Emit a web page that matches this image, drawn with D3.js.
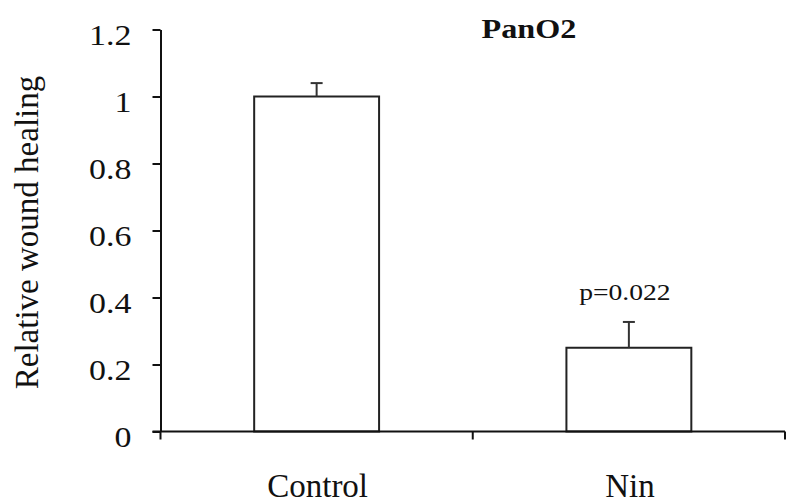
<!DOCTYPE html>
<html>
<head>
<meta charset="utf-8">
<script src="https://cdn.jsdelivr.net/npm/d3@7"></script>
<style>
  body { margin: 0; background: #fff; }
  text { font-family: "Liberation Serif", "Times New Roman", serif; fill: #111; }
</style>
</head>
<body>
<svg id="chart" width="786" height="504"></svg>
<script>
// values
var categories = ["Control", "Nin"];
var means = [1.0, 0.25];
var errors = [0.04, 0.077];
var pLabels = ["", "p=0.022"];
var yTicks = [0, 0.2, 0.4, 0.6, 0.8, 1, 1.2];
var yTickLabels = ["0", "0.2", "0.4", "0.6", "0.8", "1", "1.2"];

var svg = d3.select('#chart');

var plotLeft = 160.5, plotRight = 785, plotTop = 29.5, plotBottom = 431.5;

var x = d3.scaleBand().domain(categories).range([plotLeft, plotRight]).paddingInner(0).paddingOuter(0),
    y = d3.scaleLinear().domain([0, 1.2]).range([plotBottom, plotTop]);

var barW = x.bandwidth() * 0.4;
var rows = categories.map(function(c, i) { return { cat: c, mean: means[i], err: errors[i], p: pLabels[i] }; });

// y axis
var yAxis = d3.axisLeft(y).tickValues(yTicks).tickSize(8).tickSizeOuter(0)
    .tickFormat(function(d, i) { return yTickLabels[i]; });

var gy = svg.append('g').attr('transform', 'translate(' + plotLeft + ',0)').call(yAxis);
gy.select('.domain').attr('stroke', '#111').attr('stroke-width', 2);
gy.selectAll('.tick line').attr('stroke', '#111').attr('stroke-width', 2);
gy.selectAll('.tick text')
    .attr('x', null).attr('dy', null)
    .attr('transform', 'translate(-29,15) scale(1.15,1)')
    .style('font-size', '29.5px').style('text-anchor', 'end').attr('fill', '#111')
    .style('font-family', '"Liberation Serif", "Times New Roman", serif');

// bars
svg.append('g').selectAll('rect').data(rows).enter().append('rect')
    .attr('x', function(d) { return x(d.cat) + (x.bandwidth() - barW) / 2; })
    .attr('width', barW)
    .attr('y', function(d) { return y(d.mean); })
    .attr('height', function(d) { return y(0) - y(d.mean); })
    .attr('fill', '#fff').attr('stroke', '#222').attr('stroke-width', 2);

// error bars (upper only)
var eb = svg.append('g').selectAll('g').data(rows).enter().append('g')
    .attr('stroke', '#333').attr('stroke-width', 2);
eb.append('line')
    .attr('x1', function(d) { return x(d.cat) + x.bandwidth() / 2; })
    .attr('x2', function(d) { return x(d.cat) + x.bandwidth() / 2; })
    .attr('y1', function(d) { return y(d.mean); })
    .attr('y2', function(d) { return y(d.mean + d.err); });
eb.append('line')
    .attr('x1', function(d) { return x(d.cat) + x.bandwidth() / 2 - 6; })
    .attr('x2', function(d) { return x(d.cat) + x.bandwidth() / 2 + 6; })
    .attr('y1', function(d) { return y(d.mean + d.err); })
    .attr('y2', function(d) { return y(d.mean + d.err); });

// p value labels
svg.append('g').selectAll('text').data(rows.filter(function(d) { return d.p; })).enter().append('text')
    .attr('transform', function(d) {
        return 'translate(' + (x(d.cat) + x.bandwidth() / 2 - 4) + ',' + (y(d.mean + d.err) - 22) + ') scale(1.15,1)';
    })
    .style('text-anchor', 'middle').style('font-size', '24px')
    .text(function(d) { return d.p; });

// x axis: line plus ticks at category boundaries
var xTickPos = categories.map(function(c) { return x(c); }).concat([plotRight]);
svg.append('line')
    .attr('x1', plotLeft - 8).attr('x2', plotRight)
    .attr('y1', y(0)).attr('y2', y(0))
    .attr('stroke', '#111').attr('stroke-width', 2);
svg.append('g').selectAll('line').data(xTickPos).enter().append('line')
    .attr('x1', function(d) { return d; }).attr('x2', function(d) { return d; })
    .attr('y1', y(0)).attr('y2', y(0) + 8)
    .attr('stroke', '#111').attr('stroke-width', 2);

svg.append('g').selectAll('text').data(categories).enter().append('text')
    .attr('x', function(d) { return x(d) + x.bandwidth() / 2 + 1; })
    .attr('y', 497)
    .style('text-anchor', 'middle').style('font-size', '33px')
    .text(function(d) { return d; });

// y axis title
svg.append('text')
    .attr('transform', 'translate(38,' + ((plotTop + plotBottom) / 2 + 2) + ') rotate(-90)')
    .style('text-anchor', 'middle').style('font-size', '33px')
    .text('Relative wound healing');

// chart title
svg.append('text')
    .attr('transform', 'translate(529,38) scale(1.15,1)')
    .style('text-anchor', 'middle').style('font-size', '28px').style('font-weight', 'bold')
    .text('PanO2');
</script>
</body>
</html>
